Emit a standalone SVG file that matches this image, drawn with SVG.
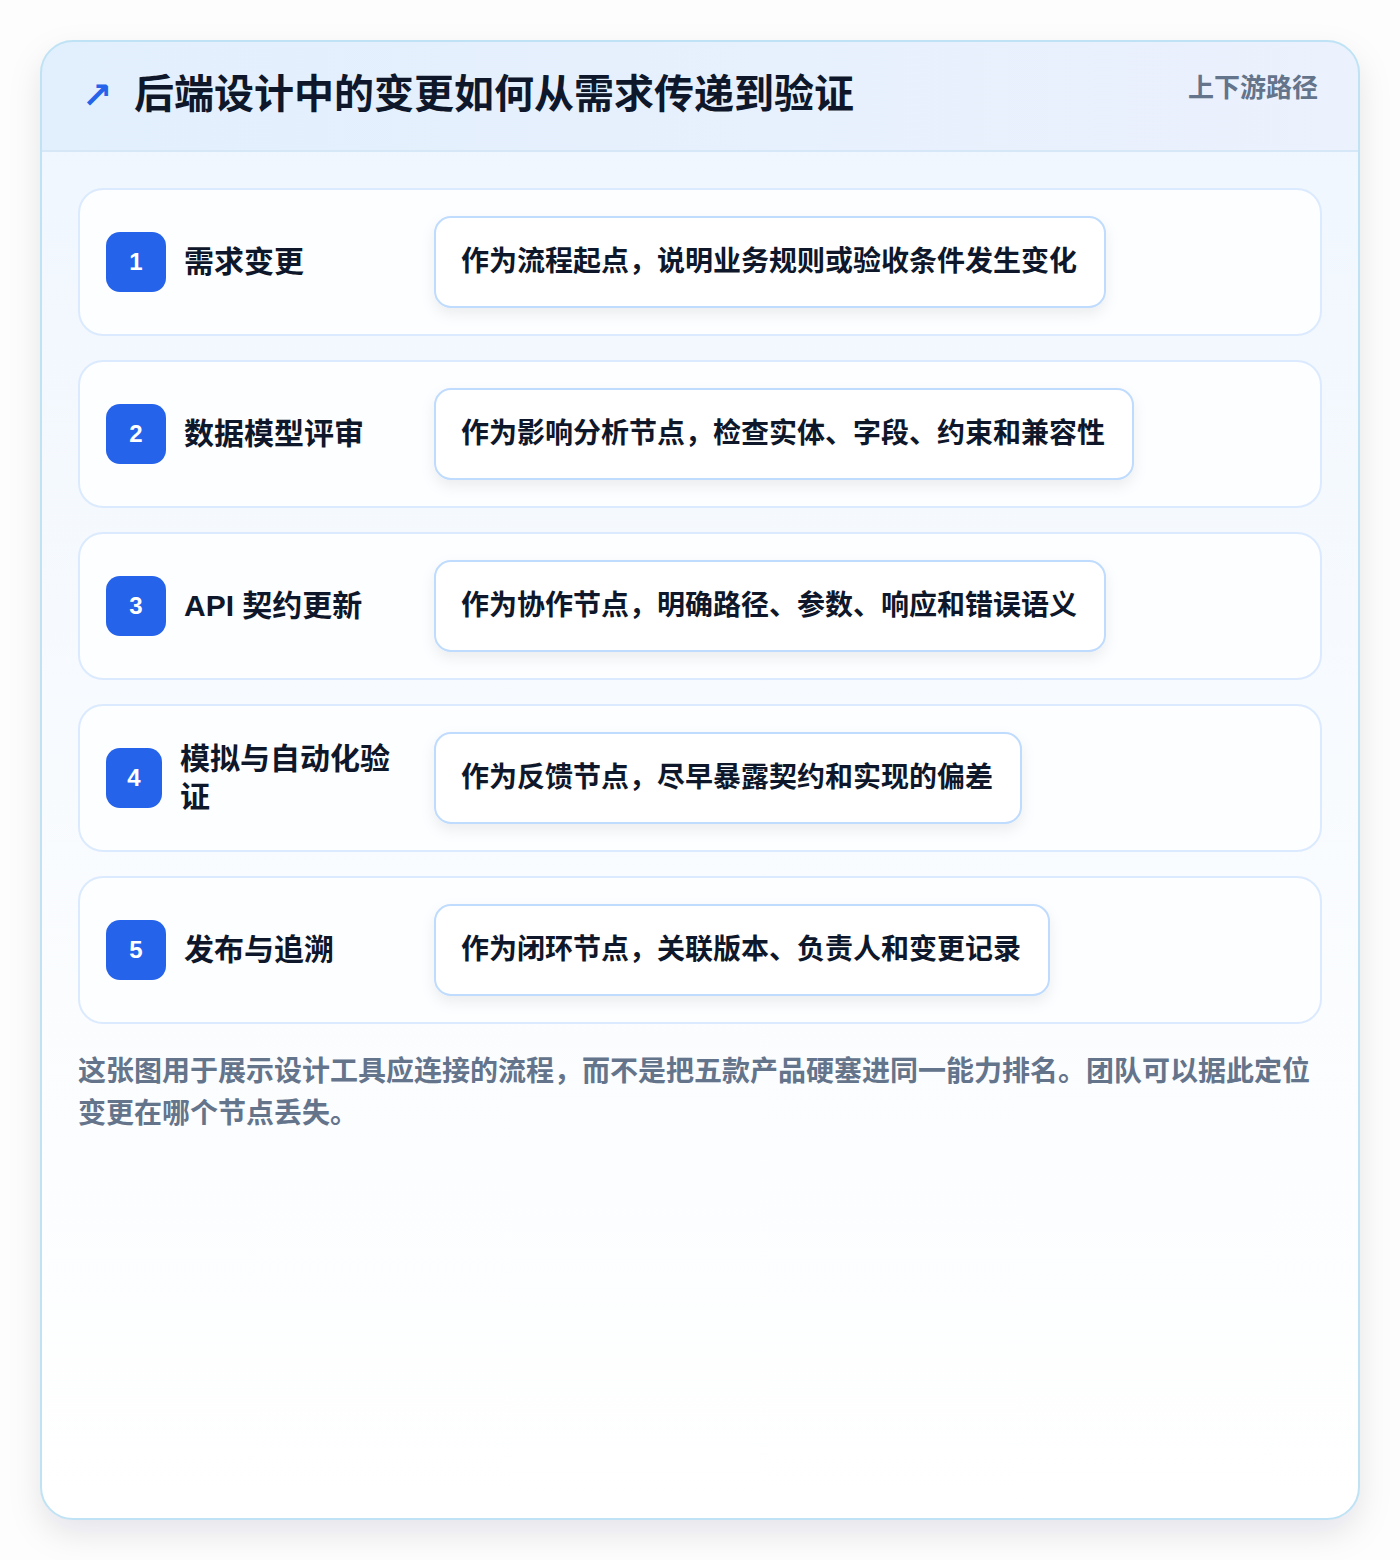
<svg xmlns="http://www.w3.org/2000/svg" width="1400" height="1560" viewBox="0 0 1400 1560">
<defs>
<linearGradient id="bodyG" x1="0" y1="0" x2="0" y2="1">
<stop offset="0" stop-color="#eff6fe"/>
<stop offset="0.5" stop-color="#f8fbfe"/>
<stop offset="1" stop-color="#ffffff"/>
</linearGradient>
<linearGradient id="headG" x1="0" y1="0" x2="1" y2="0">
<stop offset="0" stop-color="#e2effd"/>
<stop offset="1" stop-color="#ebf1fd"/>
</linearGradient>
<filter id="cardSh" x="-10%" y="-10%" width="120%" height="120%">
<feDropShadow dx="0" dy="14" stdDeviation="16" flood-color="#0f172a" flood-opacity="0.10"/>
</filter>
<filter id="boxSh" x="-10%" y="-30%" width="120%" height="170%">
<feDropShadow dx="0" dy="6" stdDeviation="7" flood-color="#0f172a" flood-opacity="0.07"/>
</filter>
<clipPath id="cardClip"><rect x="41" y="41" width="1318" height="1478" rx="32"/></clipPath>
</defs>
<style>
.row{fill:#fdfeff;stroke:#dbeafe;stroke-width:2}
.badge{fill:#2563eb}
.num{font-family:"Liberation Sans",Arial,sans-serif;font-size:24px;font-weight:700;fill:#ffffff;text-anchor:middle}
.lbl{font-family:"Liberation Sans","Noto Sans CJK SC",sans-serif;font-size:30px;font-weight:700;fill:#0f172a}
.box{fill:#ffffff;stroke:#bfdbfe;stroke-width:2}
.desc{font-family:"Noto Sans CJK SC",sans-serif;font-size:28px;font-weight:700;fill:#0f172a}
.foot{font-family:"Noto Sans CJK SC",sans-serif;font-size:28px;font-weight:600;fill:#64748b}
</style>
<rect width="1400" height="1560" fill="#fdfdfd"/>
<g id="card">
<rect x="41" y="41" width="1318" height="1478" rx="32" fill="url(#bodyG)" filter="url(#cardSh)"/>
<g clip-path="url(#cardClip)">
<rect x="41" y="41" width="1318" height="110" fill="url(#headG)"/>
<line x1="41" y1="151" x2="1359" y2="151" stroke="#d6e7f8" stroke-width="2"/>
</g>
<rect x="41" y="41" width="1318" height="1478" rx="32" fill="none" stroke="#bfe3f5" stroke-width="2"/>
</g>
<g id="header">
<text x="82" y="108" font-family="DejaVu Sans,sans-serif" font-size="36" font-weight="700" fill="#2563eb">↗</text>
<text x="134" y="108" font-family="Noto Sans CJK SC,sans-serif" font-size="40" font-weight="700" fill="#0f172a">后端设计中的变更如何从需求传递到验证</text>
<text x="1318" y="97" text-anchor="end" font-family="Noto Sans CJK SC,sans-serif" font-size="26" font-weight="700" fill="#64748b">上下游路径</text>
</g>
<g id="node1">
<rect class="row" x="79" y="189" width="1242" height="146" rx="24"/>
<rect class="badge" x="106" y="232" width="60" height="60" rx="14"/>
<text class="num" x="136" y="270">1</text>
<text class="lbl" x="184" y="272">需求变更</text>
<rect class="box" x="435" y="217" width="670" height="90" rx="16" filter="url(#boxSh)"/>
<text class="desc" x="461" y="271">作为流程起点，说明业务规则或验收条件发生变化</text>
</g>
<g id="node2">
<rect class="row" x="79" y="361" width="1242" height="146" rx="24"/>
<rect class="badge" x="106" y="404" width="60" height="60" rx="14"/>
<text class="num" x="136" y="442">2</text>
<text class="lbl" x="184" y="444">数据模型评审</text>
<rect class="box" x="435" y="389" width="698" height="90" rx="16" filter="url(#boxSh)"/>
<text class="desc" x="461" y="443">作为影响分析节点，检查实体、字段、约束和兼容性</text>
</g>
<g id="node3">
<rect class="row" x="79" y="533" width="1242" height="146" rx="24"/>
<rect class="badge" x="106" y="576" width="60" height="60" rx="14"/>
<text class="num" x="136" y="614">3</text>
<text class="lbl" x="184" y="616">API 契约更新</text>
<rect class="box" x="435" y="561" width="670" height="90" rx="16" filter="url(#boxSh)"/>
<text class="desc" x="461" y="615">作为协作节点，明确路径、参数、响应和错误语义</text>
</g>
<g id="node4">
<rect class="row" x="79" y="705" width="1242" height="146" rx="24"/>
<rect class="badge" x="106" y="748" width="56" height="60" rx="14"/>
<text class="num" x="134" y="786">4</text>
<text class="lbl" x="180" y="769">模拟与自动化验</text>
<text class="lbl" x="180" y="807">证</text>
<rect class="box" x="435" y="733" width="586" height="90" rx="16" filter="url(#boxSh)"/>
<text class="desc" x="461" y="787">作为反馈节点，尽早暴露契约和实现的偏差</text>
</g>
<g id="node5">
<rect class="row" x="79" y="877" width="1242" height="146" rx="24"/>
<rect class="badge" x="106" y="920" width="60" height="60" rx="14"/>
<text class="num" x="136" y="958">5</text>
<text class="lbl" x="184" y="960">发布与追溯</text>
<rect class="box" x="435" y="905" width="614" height="90" rx="16" filter="url(#boxSh)"/>
<text class="desc" x="461" y="959">作为闭环节点，关联版本、负责人和变更记录</text>
</g>
<g id="connectors"></g>
<g id="footer">
<text class="foot" x="78" y="1081">这张图用于展示设计工具应连接的流程，而不是把五款产品硬塞进同一能力排名。团队可以据此定位</text>
<text class="foot" x="78" y="1123">变更在哪个节点丢失。</text>
</g>
</svg>
